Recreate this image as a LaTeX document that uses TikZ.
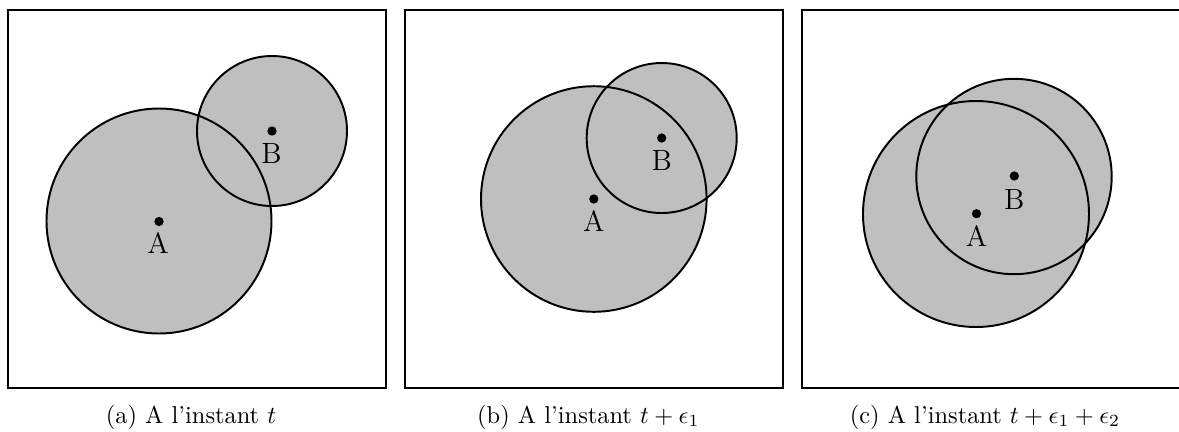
\documentclass[tikz,border=0pt]{standalone}
\begin{document}
\begin{tikzpicture}[x=0.4098pt,y=-0.4098pt,
  frame/.style={draw,line width=0.8pt},
  disk/.style={fill=lightgray},
  rim/.style={draw,line width=0.8pt},
  dotpt/.style={circle,fill=black,inner sep=0pt,minimum size=3.8pt},
  lab/.style={anchor=base,inner sep=0pt,font=\large},
  captext/.style={anchor=base,inner sep=0pt}]
\clip (0,0) rectangle (1179,431);
% ---------- panel (a)
\draw[frame] (8,10) rectangle (386,388);
\fill[disk] (159,221) circle (112.5);
\fill[disk] (272,131) circle (75);
\draw[rim] (159,221) circle (112.5);
\draw[rim] (272,131) circle (75);
\node[dotpt] (aA) at (159,221.5) {};
\node[dotpt] (aB) at (272,131) {};
\node[lab] (aAl) at (158,253.5) {A};
\node[lab] (aBl) at (271.5,163) {B};
\node[captext] (capa) at (191,423) {(a) A l'instant $t$};
% ---------- panel (b)
\draw[frame] (405,10) rectangle (783,388);
\fill[disk] (593.8,199) circle (112.8);
\fill[disk] (661.7,138) circle (75);
\draw[rim] (593.8,199) circle (112.8);
\draw[rim] (661.7,138) circle (75);
\node[dotpt] (bA) at (593.8,199) {};
\node[dotpt] (bB) at (661.7,138) {};
\node[lab] (bAl) at (593.8,231) {A};
\node[lab] (bBl) at (661.7,170.5) {B};
\node[captext] (capb) at (588.4,423) {(b) A l'instant $t+\epsilon_1$};
% ---------- panel (c)
\draw[frame] (802,10) rectangle (1180,388);
\fill[disk] (976,214) circle (113);
\fill[disk] (1014,176.5) circle (97.7);
\draw[rim] (976,214) circle (113);
\draw[rim] (1014,176.5) circle (97.7);
\node[dotpt] (cA) at (976.5,213.7) {};
\node[dotpt] (cB) at (1014.3,176) {};
\node[lab] (cAl) at (976.5,246.5) {A};
\node[lab] (cBl) at (1014.3,209) {B};
\node[captext] (capc) at (985,423) {(c) A l'instant $t+\epsilon_1+\epsilon_2$};
\end{tikzpicture}
\end{document}
